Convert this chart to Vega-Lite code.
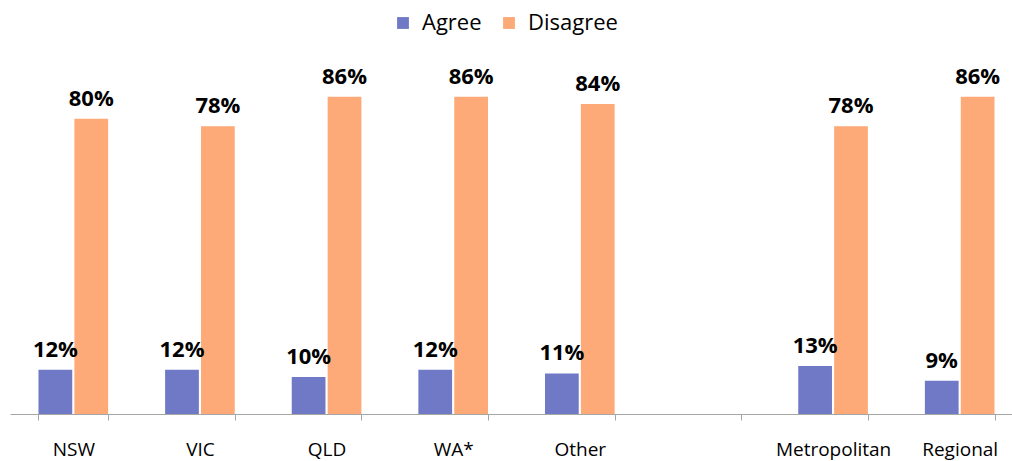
{
  "$schema": "https://vega.github.io/schema/vega-lite/v6.json",
  "width": 1013,
  "height": 369,
  "autosize": {"type": "none"},
  "padding": {"left": 10, "top": 45, "right": 0, "bottom": 47},
  "background": "white",
  "config": {"font": "Open Sans", "view": {"stroke": null}},
  "data": {
    "values": [
      {"region": "NSW", "response": "Agree", "share": 0.12},
      {"region": "NSW", "response": "Disagree", "share": 0.80},
      {"region": "VIC", "response": "Agree", "share": 0.12},
      {"region": "VIC", "response": "Disagree", "share": 0.78},
      {"region": "QLD", "response": "Agree", "share": 0.10},
      {"region": "QLD", "response": "Disagree", "share": 0.86},
      {"region": "WA*", "response": "Agree", "share": 0.12},
      {"region": "WA*", "response": "Disagree", "share": 0.86},
      {"region": "Other", "response": "Agree", "share": 0.11},
      {"region": "Other", "response": "Disagree", "share": 0.84},
      {"region": "Metropolitan", "response": "Agree", "share": 0.13},
      {"region": "Metropolitan", "response": "Disagree", "share": 0.78},
      {"region": "Regional", "response": "Agree", "share": 0.09},
      {"region": "Regional", "response": "Disagree", "share": 0.86}
    ]
  },
  "encoding": {
    "x": {
      "field": "region",
      "type": "nominal",
      "sort": null,
      "scale": {
        "domain": ["NSW", "VIC", "QLD", "WA*", "Other", " ", "Metropolitan", "Regional"],
        "paddingInner": 0.45,
        "paddingOuter": 0.225
      },
      "axis": {
        "title": null,
        "labelAngle": 0,
        "labelFontSize": 19,
        "labelColor": "#000000",
        "labelPadding": 20,
        "domainColor": "#A6A6A6",
        "tickColor": "#A6A6A6",
        "tickBand": "extent",
        "tickSize": 6,
        "grid": false
      }
    },
    "xOffset": {
      "field": "response",
      "type": "nominal",
      "scale": {"domain": ["Agree", "Disagree"], "paddingInner": 0.06}
    },
    "y": {
      "field": "share",
      "type": "quantitative",
      "scale": {"domain": [0, 1]},
      "axis": null
    }
  },
  "layer": [
    {
      "mark": {"type": "bar"},
      "encoding": {
        "color": {
          "field": "response",
          "type": "nominal",
          "scale": {"domain": ["Agree", "Disagree"], "range": ["#7079C5", "#FDAA78"]},
          "legend": {
            "title": null,
            "orient": "none",
            "direction": "horizontal",
            "legendX": 382,
            "legendY": -33,
            "symbolType": "square",
            "symbolSize": 140,
            "symbolStrokeWidth": 0,
            "labelFontSize": 22,
            "labelColor": "#000000",
            "labelOffset": 8,
            "columnPadding": 16
          }
        }
      }
    },
    {
      "mark": {
        "type": "text",
        "baseline": "alphabetic",
        "dy": -13,
        "fontWeight": "bold",
        "fontSize": 22,
        "color": "#000000"
      },
      "encoding": {
        "text": {"field": "share", "type": "quantitative", "format": ".0%"}
      }
    }
  ]
}
